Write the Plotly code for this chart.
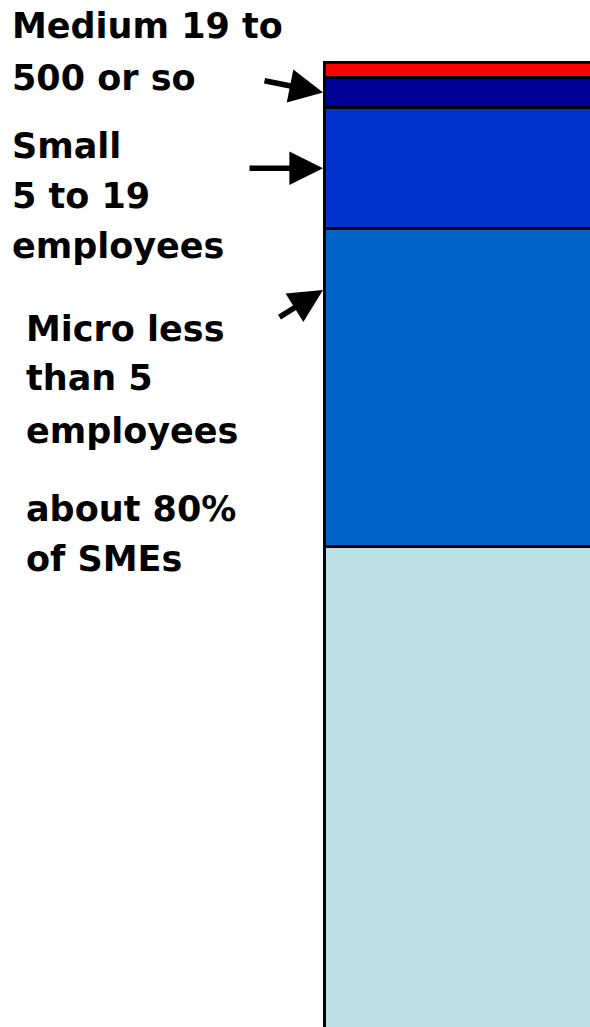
import plotly.graph_objects as go

# Business size bands, stacked from the bottom up (share of firms, %)
segments = ["Non-employing", "Micro", "Small", "Medium", "Large"]
shares = [50.4, 32.5, 12.4, 3.1, 1.6]
colors = ["#BCE0E3", "#0064C8", "#0033CC", "#000099", "#FF0000"]

W, H = 590, 1027
BAR_LEFT_PX = 324      # left edge of the bar on the page
BAR_TOP_PX = 62        # top of the stack on the page
PX_PER_UNIT = 9.76     # vertical scale

total = sum(shares)
y_top = total + BAR_TOP_PX / PX_PER_UNIT
y_bottom = y_top - H / PX_PER_UNIT

# bar spans x in [-0.5, 0.5]; right part runs off the page
x_right = 0.45
f = BAR_LEFT_PX / W
x_left = (-0.5 - f * x_right) / (1 - f)

fig = go.Figure()
for name, val, col in zip(segments, shares, colors):
    fig.add_trace(go.Bar(
        x=[0], y=[val], name=name, width=1,
        marker=dict(color=col, line=dict(color="#000000", width=3)),
        hoverinfo="skip",
    ))

FONT = dict(family="DejaVu Sans", size=35, color="black")


def px_to_paper(px, py):
    return px / W, 1 - py / H


def label(text, left_px, baseline_px):
    x, y = px_to_paper(left_px, baseline_px - 12)
    fig.add_annotation(
        text=f"<b>{text}</b>", x=x, y=y, xref="paper", yref="paper",
        xanchor="left", yanchor="middle", showarrow=False, font=FONT,
    )


def arrow(tail, tip):
    x, y = px_to_paper(*tip)
    fig.add_annotation(
        text="", x=x, y=y, xref="paper", yref="paper",
        ax=tail[0] - tip[0], ay=tail[1] - tip[1],
        showarrow=True, arrowhead=2, arrowsize=1.2, arrowwidth=5.6,
        arrowcolor="black", standoff=0,
    )


lines = [
    ("Medium 19 to", 10, 38), ("500 or so", 10, 90),
    ("Small", 10, 158), ("5 to 19", 10, 208), ("employees", 10, 258),
    ("Micro less", 24, 341), ("than 5", 24, 390), ("employees", 24, 443),
    ("about 80%", 24, 521), ("of SMEs", 24, 571),
]
for t, lx, bl in lines:
    label(t, lx, bl)

arrow((263, 80.5), (323, 92.5))
arrow((248, 168.3), (323, 168.3))
arrow((278, 318), (323, 290))

fig.update_layout(
    width=W, height=H, margin=dict(l=0, r=0, t=0, b=0),
    barmode="stack", showlegend=False,
    plot_bgcolor="white", paper_bgcolor="white",
    xaxis=dict(range=[x_left, x_right], visible=False, fixedrange=True),
    yaxis=dict(range=[y_bottom, y_top], visible=False, fixedrange=True),
)

fig.write_html("out.html")
